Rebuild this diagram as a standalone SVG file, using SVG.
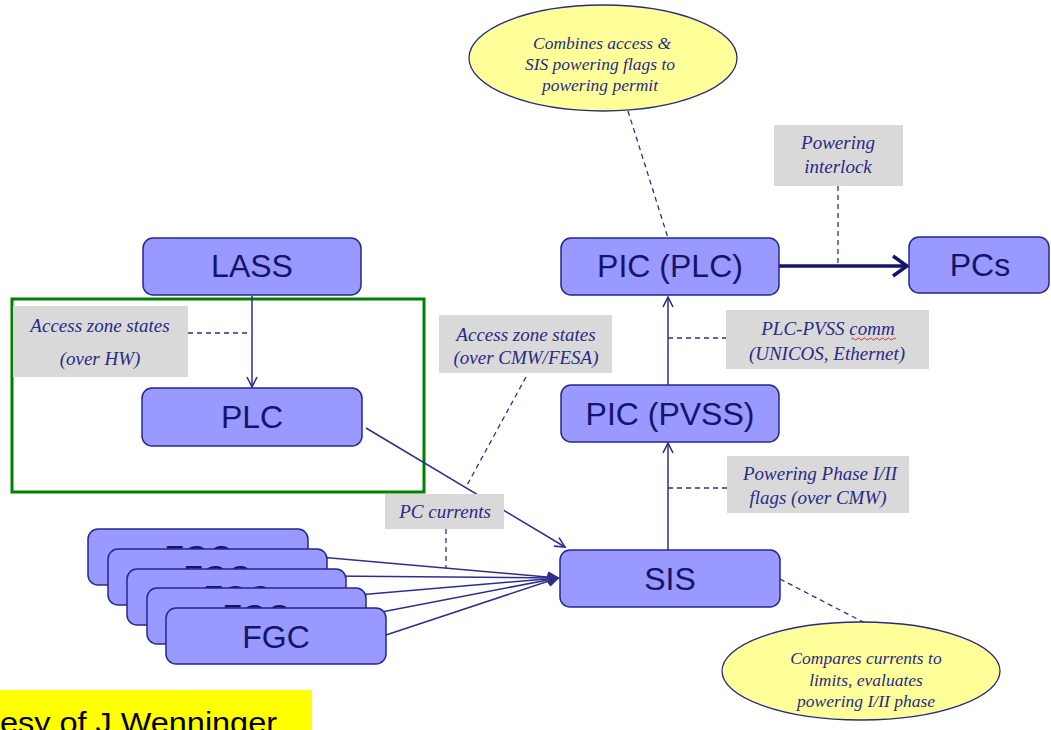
<svg xmlns="http://www.w3.org/2000/svg" width="1051" height="730" viewBox="0 0 1051 730">
<style>
.box{fill:#9999ff;stroke:#27278a;stroke-width:1.5}
.nt{font-family:"Liberation Sans",Arial,sans-serif;font-size:32px;fill:#14146b;text-anchor:middle}
.lbl{fill:#d9d9d9}
.lt{font-family:"Liberation Serif","Times New Roman",serif;font-style:italic;font-size:19px;fill:#2a2a86;text-anchor:middle}
.ell{fill:#ffff99;stroke:#2a2a80;stroke-width:1.3}
.et{font-family:"Liberation Serif","Times New Roman",serif;font-style:italic;font-size:17.5px;fill:#2a2a86;text-anchor:middle}
.ln{stroke:#2e2e8c;stroke-width:1.5;fill:none}
.dash{stroke:#2e2e8c;stroke-width:1.3;stroke-dasharray:5,4;fill:none}
</style>
<defs>
<marker id="arr" markerUnits="userSpaceOnUse" markerWidth="14" markerHeight="14" refX="11" refY="6" orient="auto">
<path d="M1,1 L11,6 L1,11" fill="none" stroke="#2e2e8c" stroke-width="1.6"/>
</marker>
<marker id="arrB" markerUnits="userSpaceOnUse" markerWidth="20" markerHeight="24" refX="16" refY="12" orient="auto">
<path d="M2,2 L16,12 L2,22" fill="none" stroke="#14146b" stroke-width="3.5"/>
</marker>
</defs>
<rect width="1051" height="730" fill="#ffffff"/>

<g id="green-frame">
<rect x="12" y="299" width="412" height="193" fill="none" stroke="#008000" stroke-width="3"/>
</g>

<g id="connectors">
<line class="ln" x1="252" y1="296" x2="252" y2="387" marker-end="url(#arr)"/>
<line class="dash" x1="188" y1="333" x2="250" y2="333"/>
<line class="ln" x1="366" y1="428" x2="565" y2="547" marker-end="url(#arr)"/>
<line class="dash" x1="526" y1="377" x2="466" y2="487"/>
<line class="ln" x1="308" y1="556" x2="558" y2="578" marker-end="url(#arr)"/>
<line class="ln" x1="327" y1="576" x2="558" y2="578" marker-end="url(#arr)"/>
<line class="ln" x1="346" y1="596" x2="558" y2="578" marker-end="url(#arr)"/>
<line class="ln" x1="366" y1="615" x2="558" y2="578" marker-end="url(#arr)"/>
<line class="ln" x1="386" y1="635" x2="558" y2="578" marker-end="url(#arr)"/>
<line class="dash" x1="446" y1="529" x2="446" y2="568"/>
<line class="ln" x1="668" y1="550" x2="668" y2="443" marker-end="url(#arr)"/>
<line class="dash" x1="668" y1="488" x2="727" y2="488"/>
<line class="ln" x1="668" y1="385" x2="668" y2="297" marker-end="url(#arr)"/>
<line class="dash" x1="668" y1="338" x2="726" y2="338"/>
<line class="dash" x1="628" y1="111" x2="668" y2="238"/>
<line x1="779" y1="266" x2="907" y2="266" stroke="#14146b" stroke-width="3.5" marker-end="url(#arrB)"/>
<line class="dash" x1="838" y1="186" x2="838" y2="265"/>
<line class="dash" x1="780" y1="579" x2="865" y2="623"/>
</g>

<g id="LASS"><rect class="box" x="143" y="238" width="218" height="57" rx="10"/><text class="nt" x="252" y="277">LASS</text></g>
<g id="PLC"><rect class="box" x="142" y="388" width="220" height="58" rx="10"/><text class="nt" x="252" y="428">PLC</text></g>
<g id="PIC-PLC"><rect class="box" x="561" y="238" width="218" height="57" rx="10"/><text class="nt" x="670" y="277">PIC (PLC)</text></g>
<g id="PCs"><rect class="box" x="909" y="237" width="140" height="56" rx="10"/><text class="nt" x="980" y="276">PCs</text></g>
<g id="PIC-PVSS"><rect class="box" x="561" y="385" width="218" height="57" rx="10"/><text class="nt" x="670" y="425">PIC (PVSS)</text></g>
<g id="SIS"><rect class="box" x="560" y="550" width="220" height="57" rx="10"/><text class="nt" x="670" y="590">SIS</text></g>

<g id="FGC1"><rect class="box" x="88" y="529" width="220" height="56" rx="10"/><text class="nt" x="198" y="568">FGC</text></g>
<g id="FGC2"><rect class="box" x="108" y="549" width="219" height="56" rx="10"/><text class="nt" x="217" y="588">FGC</text></g>
<g id="FGC3"><rect class="box" x="127" y="569" width="219" height="56" rx="10"/><text class="nt" x="237" y="608">FGC</text></g>
<g id="FGC4"><rect class="box" x="147" y="588" width="219" height="56" rx="10"/><text class="nt" x="256" y="627">FGC</text></g>
<g id="FGC5"><rect class="box" x="166" y="608" width="220" height="56" rx="10"/><text class="nt" x="276" y="648">FGC</text></g>

<g id="lbl-access-hw"><rect class="lbl" x="13" y="306" width="175" height="71"/><text class="lt" x="100" y="332">Access zone states</text><text class="lt" x="100" y="365">(over HW)</text></g>
<g id="lbl-access-cmw"><rect class="lbl" x="439" y="315" width="173" height="58"/><text class="lt" x="526" y="341">Access zone states</text><text class="lt" x="526" y="364">(over CMW/FESA)</text></g>
<g id="lbl-pc-currents"><rect class="lbl" x="385" y="494" width="119" height="35"/><text class="lt" x="445" y="518">PC currents</text></g>
<g id="lbl-interlock"><rect class="lbl" x="774" y="125" width="129" height="61"/><text class="lt" x="838" y="149">Powering</text><text class="lt" x="838" y="173">interlock</text></g>
<g id="lbl-plc-pvss"><rect class="lbl" x="726" y="310" width="203" height="59"/><text class="lt" x="828" y="335">PLC-PVSS comm</text><text class="lt" x="827" y="360">(UNICOS, Ethernet)</text>
<path d="M851,339 q1.5,-2 3,0 t3,0 t3,0 t3,0 t3,0 t3,0 t3,0 t3,0 t3,0 t3,0 t3,0 t3,0 t3,0 t3,0 t3,0" fill="none" stroke="#e03030" stroke-width="1"/></g>
<g id="lbl-phase"><rect class="lbl" x="727" y="456" width="182" height="57"/><text class="lt" x="820" y="480">Powering Phase I/II</text><text class="lt" x="818" y="504">flags (over CMW)</text></g>

<g id="note-top"><ellipse class="ell" cx="603" cy="58" rx="134" ry="53"/><text class="et" x="602" y="49">Combines access &amp;</text><text class="et" x="600" y="70">SIS powering flags to</text><text class="et" x="600" y="91">powering permit</text></g>
<g id="note-bottom"><ellipse class="ell" cx="861" cy="671" rx="139" ry="49"/><text class="et" x="866" y="664">Compares currents to</text><text class="et" x="866" y="686">limits, evaluates</text><text class="et" x="866" y="707">powering I/II phase</text></g>

<g id="credit"><rect x="0" y="690" width="312" height="40" fill="#ffff00"/><text x="0" y="733" font-family="Liberation Sans,Arial,sans-serif" font-size="30" fill="#000000" textLength="277" lengthAdjust="spacingAndGlyphs">esy of J Wenninger</text></g>
</svg>
